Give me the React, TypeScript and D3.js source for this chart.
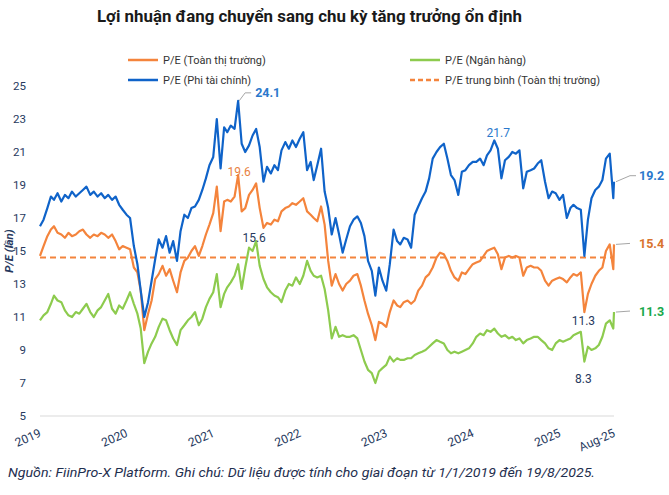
import React, { useEffect, useRef } from 'react';
import * as d3 from 'd3';

// Chart text
const title = 'Lợi nhuận đang chuyển sang chu kỳ tăng trưởng ổn định';
const note = 'Nguồn: FiinPro-X Platform. Ghi chú: Dữ liệu được tính cho giai đoạn từ 1/1/2019 đến 19/8/2025.';
const yAxisTitle = 'P/E (lần)';

// Axis ticks
const yTicks = [5, 7, 9, 11, 13, 15, 17, 19, 21, 23, 25];
const xTickLabels = ['2019', '2020', '2021', '2022', '2023', '2024', '2025', 'Aug-25'];
const xTickDates = ['2019-01-01', '2020-01-01', '2021-01-01', '2022-01-01', '2023-01-01', '2024-01-01', '2025-01-01', '2025-08-19'];

// Series names
const nameMarket = 'P/E (Toàn thị trường)';
const nameBank = 'P/E (Ngân hàng)';
const nameNonFin = 'P/E (Phi tài chính)';
const nameAvg = 'P/E trung bình (Toàn thị trường)';

const avgPE = 14.6;

// Semi-monthly readings (1st and 16th of each month), last value = 19/8/2025
const nonFin2019 = [16.5, 16.9, 17.6, 18.3, 18.1, 18.5, 18.0, 18.4, 18.2, 18.6, 18.3, 18.5, 18.7, 18.9, 18.4, 18.6, 18.3, 18.5, 18.2, 18.4, 18.1, 18.3, 17.8, 17.5];
const nonFin2020 = [17.2, 17.0, 15.3, 14.2, 12.6, 11.0, 11.9, 13.2, 14.5, 15.7, 15.2, 15.9, 14.9, 15.6, 14.4, 16.2, 17.2, 17.0, 17.6, 17.7, 18.1, 18.7, 19.4, 20.2];
const nonFin2021 = [20.7, 23.0, 20.0, 22.5, 22.2, 22.6, 22.4, 24.1, 21.5, 21.0, 21.4, 22.0, 22.4, 21.3, 19.2, 20.1, 19.7, 20.2, 19.9, 21.1, 21.6, 21.2, 21.7, 21.3];
const nonFin2022 = [21.8, 22.2, 19.9, 20.4, 19.3, 20.2, 21.2, 18.6, 17.6, 16.0, 17.0, 16.0, 14.9, 15.7, 16.5, 16.9, 17.1, 16.7, 15.9, 14.4, 13.8, 12.3, 14.0, 13.2];
const nonFin2023 = [12.6, 14.2, 16.3, 15.6, 15.4, 15.8, 15.7, 15.2, 17.2, 17.7, 18.2, 18.6, 19.4, 20.6, 21.0, 21.3, 21.5, 20.6, 19.6, 19.3, 18.4, 19.8, 19.9, 20.2];
const nonFin2024 = [20.4, 20.4, 20.6, 20.2, 20.8, 21.1, 21.7, 21.2, 19.4, 20.5, 20.7, 21.0, 20.9, 21.1, 18.8, 19.8, 19.9, 20.0, 20.3, 20.5, 19.2, 18.2, 18.6, 18.5];
const nonFin2025 = [18.1, 18.4, 17.0, 17.6, 17.8, 17.6, 17.5, 14.7, 16.9, 18.2, 18.7, 18.9, 19.3, 20.6, 20.9, 18.2, 19.2];

const market2019 = [14.7, 15.3, 15.9, 16.3, 16.5, 16.1, 16.0, 15.8, 16.1, 15.9, 16.0, 16.2, 16.3, 16.0, 15.8, 16.0, 15.9, 16.1, 16.0, 15.8, 16.0, 15.6, 15.1, 15.3];
const market2020 = [15.2, 15.1, 14.0, 13.7, 12.6, 10.2, 11.2, 12.0, 13.3, 13.6, 14.1, 13.5, 13.9, 13.2, 12.5, 13.7, 14.4, 14.6, 15.0, 15.3, 14.7, 15.3, 16.0, 16.6];
const market2021 = [17.3, 18.9, 16.2, 18.0, 18.1, 18.0, 18.3, 19.6, 17.4, 17.6, 18.4, 18.7, 19.1, 17.6, 16.4, 16.7, 16.6, 16.9, 16.8, 17.4, 17.6, 17.7, 17.9, 17.8];
const market2022 = [18.0, 18.2, 17.4, 17.2, 17.0, 16.8, 17.7, 16.6, 14.4, 12.9, 13.6, 13.0, 12.6, 13.0, 13.2, 13.5, 13.6, 12.9, 12.0, 11.2, 10.5, 9.6, 10.7, 10.6];
const market2023 = [10.4, 11.3, 12.0, 11.7, 11.6, 11.9, 12.0, 11.8, 12.0, 12.6, 12.9, 13.4, 13.6, 14.0, 14.6, 14.9, 14.8, 14.4, 13.8, 13.4, 13.2, 13.7, 13.6, 13.9];
const market2024 = [14.2, 14.3, 14.4, 14.7, 15.0, 15.1, 15.2, 14.8, 13.9, 14.6, 14.7, 14.6, 14.7, 14.6, 13.5, 14.0, 14.1, 14.0, 14.0, 13.8, 13.2, 12.9, 13.2, 13.3];
const market2025 = [13.4, 13.3, 13.1, 13.4, 13.6, 13.5, 13.7, 11.3, 12.4, 13.0, 13.5, 13.8, 14.0, 15.0, 15.4, 13.9, 15.4];

const bank2019 = [10.8, 11.1, 11.3, 11.8, 12.3, 12.0, 11.9, 11.4, 11.1, 11.0, 11.3, 11.2, 11.5, 11.8, 11.3, 11.0, 11.4, 11.6, 12.0, 12.4, 11.5, 11.2, 11.7, 11.5];
const bank2020 = [12.0, 12.5, 11.8, 11.2, 10.3, 8.2, 8.9, 9.4, 9.8, 10.4, 10.9, 10.8, 10.2, 9.7, 9.3, 10.2, 10.5, 10.8, 11.0, 11.3, 10.5, 10.9, 11.6, 12.1];
const bank2021 = [12.5, 13.6, 11.6, 12.4, 12.8, 13.1, 13.5, 14.2, 12.7, 14.0, 15.2, 15.0, 15.6, 14.1, 13.3, 12.8, 12.5, 12.3, 12.2, 11.9, 12.6, 13.0, 12.9, 13.4];
const bank2022 = [13.0, 13.5, 14.4, 13.8, 13.5, 13.4, 13.5, 12.7, 11.4, 9.7, 10.4, 9.8, 9.9, 9.8, 9.8, 9.9, 9.7, 9.0, 8.3, 7.8, 7.6, 7.0, 7.7, 7.9];
const bank2023 = [8.1, 8.6, 8.3, 8.5, 8.4, 8.4, 8.5, 8.5, 8.7, 8.8, 8.9, 9.0, 9.2, 9.4, 9.6, 9.5, 9.4, 9.0, 8.8, 8.9, 8.8, 8.9, 9.0, 9.1];
const bank2024 = [9.4, 9.8, 10.0, 9.9, 10.2, 10.1, 10.3, 10.0, 9.8, 9.9, 9.7, 9.8, 9.6, 9.7, 9.4, 9.6, 9.7, 9.8, 9.8, 9.6, 9.4, 9.1, 9.0, 9.4];
const bank2025 = [9.6, 9.5, 9.6, 9.7, 9.9, 10.0, 10.1, 8.3, 9.2, 9.0, 9.1, 9.3, 9.8, 10.6, 10.8, 10.3, 11.3];

const nonFinValues = [...nonFin2019, ...nonFin2020, ...nonFin2021, ...nonFin2022, ...nonFin2023, ...nonFin2024, ...nonFin2025];
const marketValues = [...market2019, ...market2020, ...market2021, ...market2022, ...market2023, ...market2024, ...market2025];
const bankValues = [...bank2019, ...bank2020, ...bank2021, ...bank2022, ...bank2023, ...bank2024, ...bank2025];

const C_MARKET = '#F4843C';
const C_BANK = '#8DCB4E';
const C_NONFIN = '#0F63C9';
const C_AXIS = '#26395E';
const FONT = 'Roboto, "Noto Sans", sans-serif';

interface Pt { date: Date; value: number; }

// reading dates: 1st and 16th of each month, plus the final day 19/8/2025
function readingDates(): Date[] {
  const out: Date[] = [];
  const last = new Date(2025, 7, 16);
  for (let y = 2019; y <= 2025; y++) {
    for (let m = 0; m < 12; m++) {
      for (const d of [1, 16]) {
        const dt = new Date(y, m, d);
        if (dt <= last) out.push(dt);
      }
    }
  }
  out.push(new Date(2025, 7, 19));
  return out;
}

export default function App() {
  const svgRef = useRef<SVGSVGElement>(null);

  useEffect(() => {
    if (!svgRef.current) return;
    const svg = d3.select(svgRef.current);
    svg.selectAll('*').remove();

    const width = 669;
    const height = 495;
    const plot = { left: 40, right: 614, top: 86, bottom: 416 };

    const dates = readingDates();
    const toPts = (vals: number[]): Pt[] => vals.map((v, i) => ({ date: dates[i], value: v }));
    const market = toPts(marketValues);
    const bank = toPts(bankValues);
    const nonFin = toPts(nonFinValues);

    const x = d3.scaleTime()
      .domain([new Date(2019, 0, 1), new Date(2025, 7, 19)])
      .range([plot.left, plot.right]);
    const y = d3.scaleLinear().domain([5, 25]).range([plot.bottom, plot.top]);

    svg.attr('width', width).attr('height', height).style('font-family', FONT);

    // Title
    svg.append('text')
      .attr('x', 97).attr('y', 22)
      .attr('font-size', 16.5).attr('font-weight', 700)
      .attr('fill', '#1a1a1a')
      .attr('textLength', 425).attr('lengthAdjust', 'spacingAndGlyphs')
      .text(title);

    // Legend
    const legend = [
      { label: nameMarket, color: C_MARKET, dash: false, col: 0, row: 0 },
      { label: nameBank, color: C_BANK, dash: false, col: 1, row: 0 },
      { label: nameNonFin, color: C_NONFIN, dash: false, col: 0, row: 1 },
      { label: nameAvg, color: C_MARKET, dash: true, col: 1, row: 1 },
    ];
    const lg = svg.append('g');
    legend.forEach(l => {
      const lx = l.col === 0 ? 128 : 410;
      const ly = l.row === 0 ? 60 : 80;
      lg.append('line')
        .attr('x1', lx).attr('x2', lx + 30).attr('y1', ly).attr('y2', ly)
        .attr('stroke', l.color).attr('stroke-width', 2.5)
        .attr('stroke-dasharray', l.dash ? '5,3' : null);
      lg.append('text')
        .attr('x', lx + 35).attr('y', ly + 4)
        .attr('font-size', 11).attr('fill', '#333')
        .text(l.label);
    });

    // Y axis labels
    svg.append('g').selectAll('text')
      .data(yTicks).enter().append('text')
      .attr('x', 26).attr('y', d => y(d) + 4)
      .attr('text-anchor', 'end')
      .attr('font-size', 11.5).attr('fill', C_AXIS)
      .text(d => d);

    svg.append('text')
      .attr('transform', `translate(13, ${y(15)}) rotate(-90)`)
      .attr('text-anchor', 'middle')
      .attr('font-size', 11.5).attr('font-weight', 700).attr('font-style', 'italic')
      .attr('fill', C_AXIS)
      .text(yAxisTitle);

    // Baseline
    svg.append('line')
      .attr('x1', plot.left).attr('x2', plot.right)
      .attr('y1', y(5)).attr('y2', y(5))
      .attr('stroke', '#d9d9d9').attr('stroke-width', 1);

    // X tick labels (rotated)
    svg.append('g').selectAll('text')
      .data(xTickDates.map((d, i) => ({ d: new Date(d + 'T00:00:00'), label: xTickLabels[i] })))
      .enter().append('text')
      .attr('transform', d => `translate(${x(d.d) + 2}, ${y(5) + 20}) rotate(-24)`)
      .attr('text-anchor', 'end')
      .attr('font-size', 12).attr('fill', C_AXIS)
      .text(d => d.label);

    // Average line
    svg.append('line')
      .attr('x1', plot.left).attr('x2', plot.right)
      .attr('y1', y(avgPE)).attr('y2', y(avgPE))
      .attr('stroke', C_MARKET).attr('stroke-width', 2)
      .attr('stroke-dasharray', '6,4');

    const line = d3.line<Pt>().x(d => x(d.date)).y(d => y(d.value));
    const drawSeries = (pts: Pt[], color: string) => {
      svg.append('path').datum(pts)
        .attr('d', line)
        .attr('fill', 'none')
        .attr('stroke', color)
        .attr('stroke-width', 2.2)
        .attr('stroke-linejoin', 'round');
    };
    drawSeries(bank, C_BANK);
    drawSeries(market, C_MARKET);
    drawSeries(nonFin, C_NONFIN);

    // Callouts
    const maxBy = (pts: Pt[], from: Date, to: Date) =>
      pts.filter(p => p.date >= from && p.date <= to).reduce((a, b) => (b.value > a.value ? b : a));
    const minBy = (pts: Pt[], from: Date, to: Date) =>
      pts.filter(p => p.date >= from && p.date <= to).reduce((a, b) => (b.value < a.value ? b : a));
    const fmt = d3.format('.1f');
    const leader = (pts: [number, number][]) => {
      svg.append('path')
        .attr('d', d3.line()(pts))
        .attr('fill', 'none').attr('stroke', '#a6a6a6').attr('stroke-width', 1);
    };
    const label = (px: number, py: number, text: string, color: string, bold: boolean, anchor = 'middle') => {
      svg.append('text')
        .attr('x', px).attr('y', py)
        .attr('text-anchor', anchor)
        .attr('font-size', bold ? 12.5 : 12)
        .attr('font-weight', bold ? 700 : 400)
        .attr('fill', color)
        .text(text);
    };

    const blueTop = maxBy(nonFin, new Date(2021, 0, 1), new Date(2021, 11, 31));
    const bx = x(blueTop.date), by = y(blueTop.value);
    leader([[bx + 1, by], [bx + 7, by - 8], [bx + 13, by - 8]]);
    label(bx + 17, by - 4, fmt(blueTop.value), '#2A78CC', true, 'start');

    const orangeTop = maxBy(market, new Date(2021, 0, 1), new Date(2021, 11, 31));
    label(x(orangeTop.date) + 1, y(orangeTop.value) + 1, fmt(orangeTop.value), '#E8823F', false);

    const greenTop = maxBy(bank, new Date(2021, 0, 1), new Date(2021, 11, 31));
    label(x(greenTop.date) - 2, y(greenTop.value) + 1, fmt(greenTop.value), C_AXIS, false);

    const blueTop2 = maxBy(nonFin, new Date(2024, 0, 1), new Date(2024, 11, 31));
    label(x(blueTop2.date) + 4, y(blueTop2.value) - 3, fmt(blueTop2.value), '#2A78CC', false);

    const orangeLow = minBy(market, new Date(2025, 0, 1), new Date(2025, 7, 19));
    label(x(orangeLow.date) - 1, y(orangeLow.value) + 13, fmt(orangeLow.value), C_AXIS, false);

    const greenLow = minBy(bank, new Date(2025, 0, 1), new Date(2025, 7, 19));
    label(x(greenLow.date) - 1, y(greenLow.value) + 21, fmt(greenLow.value), C_AXIS, false);

    const ends: [Pt[], string, number][] = [
      [nonFin, '#2A78CC', -6],
      [market, '#D9732E', 0],
      [bank, '#17A84B', 0],
    ];
    ends.forEach(([pts, color, rise]) => {
      const last = pts[pts.length - 1];
      const ex = x(last.date), ey = y(last.value);
      if (rise) leader([[ex + 2, ey], [ex + 16, ey + rise], [ex + 22, ey + rise]]);
      else leader([[ex + 2, ey], [ex + 16, ey - 1]]);
      label(ex + 25, ey + rise + 4, fmt(last.value), color, true, 'start');
    });

    // Footnote
    svg.append('text')
      .attr('x', 8).attr('y', 477)
      .attr('font-size', 13).attr('font-style', 'italic')
      .attr('fill', '#1f2f4f')
      .attr('textLength', 587).attr('lengthAdjust', 'spacingAndGlyphs')
      .text(note);
  }, []);

  return (
    <div style={{ position: 'absolute', left: 0, top: 0, width: 669, height: 495, background: '#fff' }}>
      <svg ref={svgRef} />
    </div>
  );
}
